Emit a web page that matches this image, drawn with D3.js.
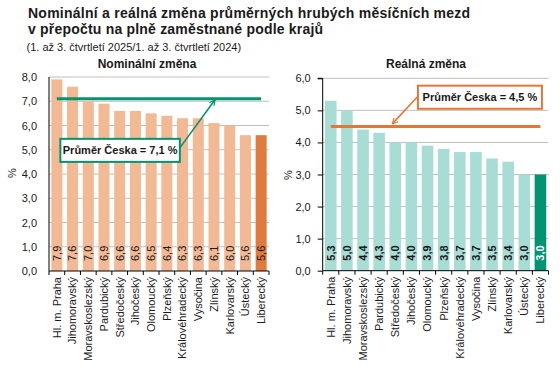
<!DOCTYPE html>
<html><head><meta charset="utf-8">
<script src="https://cdn.jsdelivr.net/npm/d3@7"></script>
<style>
html,body{margin:0;padding:0;background:#fff;}
svg{display:block;font-family:"Liberation Sans",Arial,sans-serif;}
</style></head>
<body>
<svg id="c" width="560" height="365"></svg>
<script>
const regions = ["Hl. m. Praha","Jihomoravský","Moravskoslezský","Pardubický","Středočeský","Jihočeský","Olomoucký","Plzeňský","Královéhradecký","Vysočina","Zlínský","Karlovarský","Ústecký","Liberecký"];
const nominal = [7.9,7.6,7.0,6.9,6.6,6.6,6.5,6.4,6.3,6.3,6.1,6.0,5.6,5.6];
const real = [5.3,5.0,4.4,4.3,4.0,4.0,3.9,3.8,3.7,3.7,3.5,3.4,3.0,3.0];
const nominalTicks = [0,1,2,3,4,5,6,7,8];
const realTicks = [0,1,2,3,4,5,6];
const nominalAvg = 7.1, realAvg = 4.5;
const highlight = "Liberecký";
const titleLines = ["Nominální a reálná změna průměrných hrubých měsíčních mezd","v přepočtu na plně zaměstnané podle krajů"];
const subtitle = "(1. až 3. čtvrtletí 2025/1. až 3. čtvrtletí 2024)";
const fmt = v => v.toFixed(1).replace(".", ",");

const svg = d3.select("#c");
svg.append("text").attr("x",28).attr("y",18.3).attr("font-size",14).attr("letter-spacing",0.25).attr("font-weight","bold").attr("fill","#1a1a1a").text(titleLines[0]);
svg.append("text").attr("x",28).attr("y",34.1).attr("font-size",14).attr("letter-spacing",0.2).attr("font-weight","bold").attr("fill","#1a1a1a").text(titleLines[1]);
svg.append("text").attr("x",26.5).attr("y",51).attr("font-size",11).attr("font-family","'Liberation Sans Narrow','Arial Narrow',sans-serif").attr("fill","#1a1a1a").text(subtitle);

const defs = svg.append("defs");
function marker(id,color){
  defs.append("marker").attr("id",id).attr("viewBox","0 0 10 10").attr("refX",9).attr("refY",5)
    .attr("markerWidth",7).attr("markerHeight",7).attr("markerUnits","userSpaceOnUse").attr("orient","auto")
    .append("path").attr("d","M1,1 L9,5 L1,9").attr("fill","none").attr("stroke",color).attr("stroke-width",1.6);
}
marker("ag","#00956F"); marker("ao","#E2773A");

function panel(o){
  const g = svg.append("g");
  const x = d3.scaleBand().domain(regions).range([o.x0,o.x1]).paddingInner(o.pi).paddingOuter(o.po);
  const y = d3.scaleLinear().domain(o.domain).range([o.y0,o.y1]);
  g.selectAll(".grid").data(o.ticks.filter(t=>t>0)).join("line")
    .attr("x1",o.x0).attr("x2",o.x1).attr("y1",d=>y(d)).attr("y2",d=>y(d))
    .attr("stroke","#BFBFBF").attr("stroke-width",1);
  g.selectAll(".bar").data(o.values).join("rect")
    .attr("x",(d,i)=>x(regions[i])).attr("width",x.bandwidth())
    .attr("y",d=>y(d)).attr("height",d=>y(0)-y(d))
    .attr("fill",(d,i)=>regions[i]===highlight?o.hi:o.col);
  g.selectAll(".vl").data(o.values).join("text")
    .attr("transform",(d,i)=>`translate(${x(regions[i])+x.bandwidth()/2},${y(0)-10}) rotate(-90)`)
    .attr("dy","0.35em").attr("font-size",11).attr("font-weight",o.bold?"bold":"normal")
    .attr("fill",(d,i)=>regions[i]===highlight&&o.bold?"#fff":"#1a1a1a")
    .text(d=>fmt(d));
  const ya = d3.axisLeft(y).tickValues(o.ticks).tickFormat(fmt).tickSize(o.ytick).tickPadding(o.ypad);
  const yg = g.append("g").attr("transform",`translate(${o.x0},0)`).call(ya);
  yg.select(".domain").attr("stroke","#000").attr("d",`M${-o.ytick},${o.y1}H0V${o.y0}`);
  if(o.ytick===0) yg.select(".domain").attr("d",`M0,${o.y1}V${o.y0}`);
  yg.selectAll(".tick line").attr("stroke","#000");
  yg.selectAll("text").attr("font-size",11).attr("fill","#1a1a1a").attr("font-family","'Liberation Sans',Arial,sans-serif");
  g.append("line").attr("x1",o.x0).attr("x2",o.x1).attr("y1",y(0)).attr("y2",y(0)).attr("stroke","#000");
  const step = x.step();
  const bounds = d3.range(regions.length+1).map(i=>x(regions[0]) - x.step()*x.paddingInner()/2 + i*step);
  g.selectAll(".xt").data(bounds).join("line")
    .attr("x1",d=>d).attr("x2",d=>d).attr("y1",y(0)).attr("y2",y(0)+4).attr("stroke","#000");
  g.selectAll(".xl").data(regions).join("text")
    .attr("transform",d=>`translate(${x(d)+x.bandwidth()/2},${y(0)+6}) rotate(-90)`)
    .attr("text-anchor","end").attr("dy","0.35em").attr("font-size",11).attr("fill","#1a1a1a").text(d=>d);
  g.append("text").attr("x",o.tx).attr("y",68).attr("text-anchor","middle").attr("font-size",12).attr("font-weight","bold").attr("fill","#1a1a1a").text(o.title);
  g.append("text").attr("transform",`translate(${o.px},${o.py}) rotate(-90)`).attr("text-anchor","middle").attr("dy","0.35em").attr("font-size",11).attr("fill","#1a1a1a").text("%");
  const c0 = x(regions[0])+x.bandwidth()/2, c1 = x(regions[regions.length-1])+x.bandwidth()/2;
  g.append("line").attr("x1",c0).attr("x2",c1).attr("y1",y(o.avg)).attr("y2",y(o.avg)).attr("stroke",o.line).attr("stroke-width",3);
  return {g,x,y};
}

const L = panel({x0:49,x1:269,pi:0.3,po:0.15,domain:[0,8],y0:271,y1:77,ticks:nominalTicks,values:nominal,
  col:"#F2B994",hi:"#E07B3F",bold:false,ytick:0,ypad:12,title:"Nominální změna",tx:147,px:12,py:173,avg:nominalAvg,line:"#00956F"});
const R = panel({x0:322.7,x1:548.5,pi:0.28,po:0.14,domain:[0,6],y0:270.7,y1:78.3,ticks:realTicks,values:real,
  col:"#A8DDD5",hi:"#009473",bold:true,ytick:5,ypad:7,title:"Reálná změna",tx:426,px:288,py:175,avg:realAvg,line:"#E2773A"});

{
  const {g,x,y} = L;
  const bx0 = x("Hl. m. Praha")+x.bandwidth()/2+3.5, bx1 = bx0+119.5, by0 = y(5.45), by1 = y(4.5);
  const tipX = x("Zlínský")+x.bandwidth()/2+1, tipY = y(nominalAvg)+1;
  g.append("line").attr("x1",bx1).attr("y1",(by0+by1)/2-2.5).attr("x2",tipX).attr("y2",tipY)
    .attr("stroke","#00956F").attr("stroke-width",1.6).attr("marker-end","url(#ag)");
  g.append("rect").attr("x",bx0).attr("y",by0).attr("width",bx1-bx0).attr("height",by1-by0)
    .attr("fill","#fff").attr("stroke","#00956F").attr("stroke-width",2);
  g.append("text").attr("x",(bx0+bx1)/2).attr("y",(by0+by1)/2).attr("dy","0.36em").attr("text-anchor","middle")
    .attr("font-size",11).attr("font-weight","bold").attr("fill","#1a1a1a").text("Průměr Česka = " + fmt(nominalAvg) + " %");
}
{
  const {g,x,y} = R;
  const bx1 = x(highlight)+x.bandwidth()/2+1.5, bx0 = bx1-124, by0 = y(5.77), by1 = y(5.05);
  const tipX = x("Středočeský")+x.bandwidth()/2-3, tipY = y(realAvg)-2.5;
  g.append("line").attr("x1",bx0).attr("y1",(by0+by1)/2-1).attr("x2",tipX).attr("y2",tipY)
    .attr("stroke","#E2773A").attr("stroke-width",1.6).attr("marker-end","url(#ao)");
  g.append("rect").attr("x",bx0).attr("y",by0).attr("width",bx1-bx0).attr("height",by1-by0)
    .attr("fill","#fff").attr("stroke","#E2773A").attr("stroke-width",2);
  g.append("text").attr("x",(bx0+bx1)/2).attr("y",(by0+by1)/2).attr("dy","0.36em").attr("text-anchor","middle")
    .attr("font-size",11).attr("font-weight","bold").attr("fill","#1a1a1a").text("Průměr Česka = " + fmt(realAvg) + " %");
}
</script>
</body></html>
